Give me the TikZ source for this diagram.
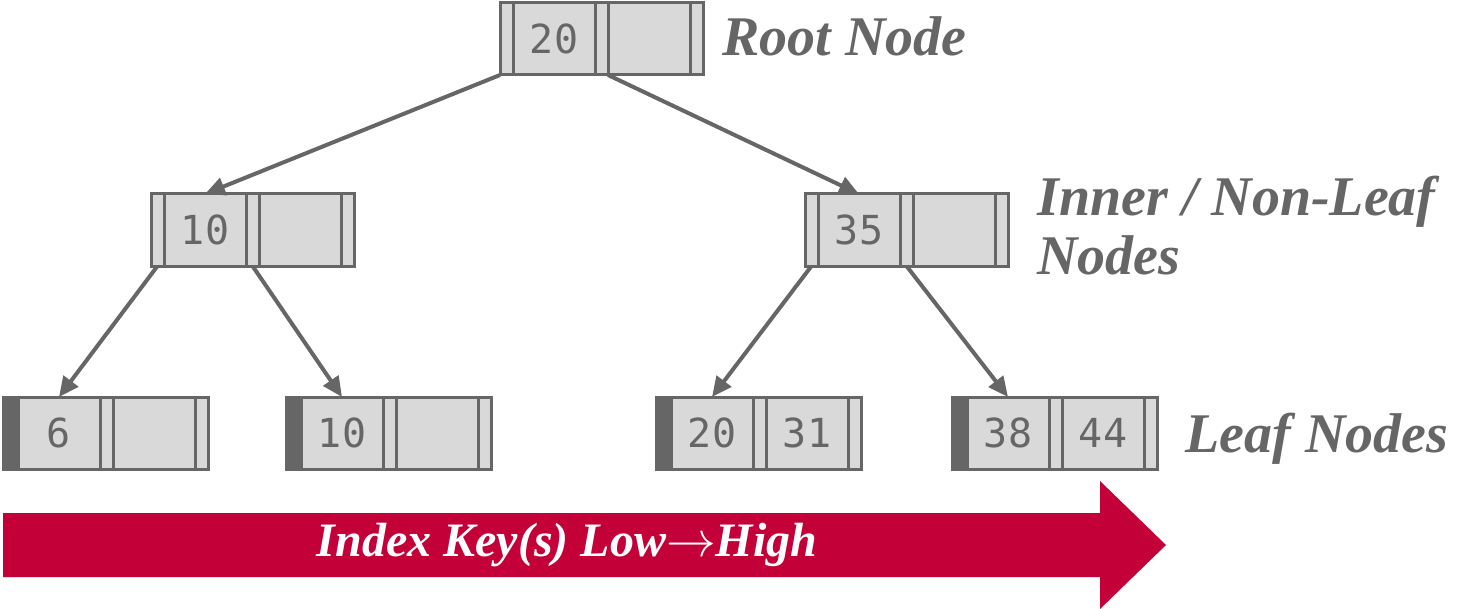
\documentclass[tikz,border=0pt]{standalone}
\usepackage{fontspec}
\setmainfont{Liberation Serif}
\setmonofont{DejaVu Sans Mono}
\usetikzlibrary{positioning,arrows.meta}
\definecolor{linegray}{HTML}{666666}
\definecolor{cellgray}{HTML}{D9D9D9}
\definecolor{keyred}{HTML}{C30037}

% one inner node: name, north west corner, key
\newcommand{\innernode}[3]{%
  \node[ptrcell,anchor=north west] (#1-p0) at (#2) {};
  \node[keycell,right=0pt of #1-p0] (#1-k1) {#3};
  \node[ptrcell,right=0pt of #1-k1] (#1-p1) {};
  \node[keycell,right=0pt of #1-p1] (#1-k2) {};
  \node[ptrcell,right=0pt of #1-k2] (#1-p2) {};}
% one leaf node: name, north west corner, two keys
\newcommand{\leafnode}[4]{%
  \node[leafbar,anchor=north west] (#1-s) at (#2) {};
  \node[keycell,right=0pt of #1-s] (#1-k1) {#3};
  \node[ptrcell,right=0pt of #1-k1] (#1-p1) {};
  \node[keycell,right=0pt of #1-p1] (#1-k2) {#4};
  \node[ptrcell,right=0pt of #1-k2] (#1-p2) {};}

\begin{document}
\begin{tikzpicture}[x=0.5pt,y=-0.5pt]
\tikzset{cell/.style=
            {draw=linegray,line width=1.5pt,fill=cellgray,inner sep=0pt,
             outer sep=0pt,minimum height=36pt},
         ptrcell/.style={cell,minimum width=6.5pt},
         keycell/.style={cell,minimum width=41pt,text=linegray,
             font=\ttfamily\fontsize{20}{20}\selectfont},
         leafbar/.style={cell,fill=linegray,minimum width=7.5pt},
         sidetext/.style={inner sep=0pt,text=linegray,
             font=\fontsize{28}{29.5}\selectfont\bfseries\itshape},
         edge/.style={draw=linegray,line width=2pt,
             -{Triangle[length=10pt,width=9pt]}}}
\useasboundingbox (0,0) rectangle (1465,609);

% tree nodes
\innernode{root}{500,3}{20}
\innernode{in1}{151,194}{10}
\innernode{in2}{805,194}{35}
\leafnode{lf1}{3,397}{6}{}
\leafnode{lf2}{286,397}{10}{}
\leafnode{lf3}{656,397}{20}{31}
\leafnode{lf4}{952,397}{38}{44}

% pointers
\draw[edge] (root-p0.south west) -- (in1-k1.north);
\draw[edge] (root-p1.south east) -- (in2-k1.north);
\draw[edge] (in1-p0.south) -- (lf1-k1.north);
\draw[edge] (in1-p1.south) -- (lf2-k1.north);
\draw[edge] (in2-p0.south) -- (lf3-k1.north);
\draw[edge] (in2-p1.south) -- (lf4-k1.north);

% level names
\node[sidetext,anchor=base west] (rootname) at (722,56) {Root Node};
\node[sidetext,anchor=north west,align=left] (innername) at (1037,176)
    {Inner / Non-Leaf\\Nodes};
\node[sidetext,anchor=base west] (leafname) at (1185,452) {Leaf Nodes};

% key order
\fill[keyred] (3,513) -- (1100,513) -- (1100,481) -- (1166,545)
    -- (1100,609) -- (1100,577) -- (3,577) -- cycle;
\node[text=white,font=\fontsize{24}{24}\selectfont\bfseries\itshape]
    (keyorder) at (567,545) {Index Key(s) Low$\rightarrow$High};
\end{tikzpicture}
\end{document}
